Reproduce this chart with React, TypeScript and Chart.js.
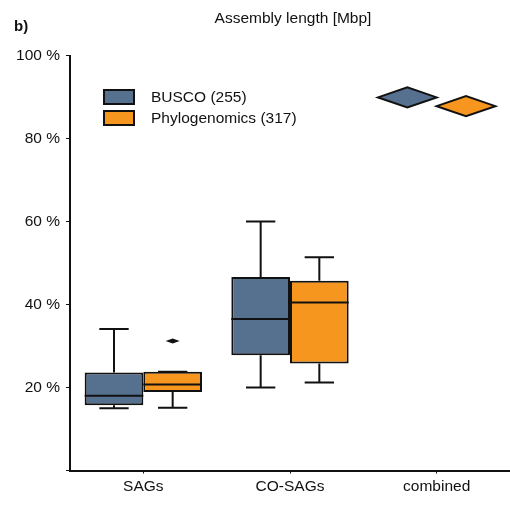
import React, { useEffect, useRef } from "react";
import { Chart, registerables } from "chart.js";

Chart.register(...registerables);

const categories = ["SAGs", "CO-SAGs", "combined"];
const seriesNames = ["BUSCO (255)", "Phylogenomics (317)"];
const seriesColors = ["#56718F", "#F7961F"];

// box statistics per category (null = no box)
const buscoMin = [15.0, 20.0, null];
const buscoQ1 = [15.7, 27.8, null];
const buscoMedian = [18.0, 36.5, null];
const buscoQ3 = [23.6, 46.6, null];
const buscoMax = [34.1, 60.0, null];

const phyloMin = [15.1, 21.2, null];
const phyloQ1 = [18.9, 25.8, null];
const phyloMedian = [20.7, 40.5, null];
const phyloQ3 = [23.8, 45.7, null];
const phyloMax = [23.8, 51.4, null];

const buscoOutliers: (number | null)[] = [null, null, null];
const phyloOutliers: (number | null)[] = [31.2, null, null];

// single values (shown as diamonds)
const buscoSingle = [null, null, 89.9];
const phyloSingle = [null, null, 87.8];

const yTicks = [0, 20, 40, 60, 80, 100];
const titleText = "Assembly length [Mbp]";
const panelLabel = "b)";

const FONT = "'Liberation Sans', Arial, sans-serif";

type Stats = {
  min: (number | null)[];
  q1: (number | null)[];
  med: (number | null)[];
  q3: (number | null)[];
  max: (number | null)[];
  out: (number | null)[];
  single: (number | null)[];
};

const stats: Stats[] = [
  { min: buscoMin, q1: buscoQ1, med: buscoMedian, q3: buscoQ3, max: buscoMax, out: buscoOutliers, single: buscoSingle },
  { min: phyloMin, q1: phyloQ1, med: phyloMedian, q3: phyloQ3, max: phyloMax, out: phyloOutliers, single: phyloSingle },
];

const boxPlugin = {
  id: "boxExtras",
  afterDatasetsDraw(chart: any) {
    const ctx = chart.ctx;
    const xs = chart.scales.x;
    const ys = chart.scales.y;
    const catW = xs.width / categories.length;
    const barW = (catW * 0.8) / 2;
    ctx.save();
    ctx.strokeStyle = "#111";
    ctx.lineWidth = 2;
    stats.forEach((s, d) => {
      categories.forEach((_, i) => {
        const cx = xs.getPixelForValue(i) + (d - 0.5) * barW;
        const left = cx - barW / 2;
        const right = cx + barW / 2;
        const capHalf = barW / 4;
        if (s.q1[i] != null) {
          const yq1 = ys.getPixelForValue(s.q1[i]);
          const yq3 = ys.getPixelForValue(s.q3[i]);
          const ymin = ys.getPixelForValue(s.min[i]);
          const ymax = ys.getPixelForValue(s.max[i]);
          const ymed = ys.getPixelForValue(s.med[i]);
          ctx.beginPath();
          ctx.moveTo(cx, yq3);
          ctx.lineTo(cx, ymax);
          ctx.moveTo(cx - capHalf, ymax);
          ctx.lineTo(cx + capHalf, ymax);
          ctx.moveTo(cx, yq1);
          ctx.lineTo(cx, ymin);
          ctx.moveTo(cx - capHalf, ymin);
          ctx.lineTo(cx + capHalf, ymin);
          ctx.moveTo(left, ymed);
          ctx.lineTo(right, ymed);
          ctx.stroke();
        }
        if (s.out[i] != null) {
          const yo = ys.getPixelForValue(s.out[i]);
          ctx.fillStyle = "#111";
          ctx.beginPath();
          ctx.moveTo(cx - 7, yo);
          ctx.lineTo(cx, yo - 2.5);
          ctx.lineTo(cx + 7, yo);
          ctx.lineTo(cx, yo + 2.5);
          ctx.closePath();
          ctx.fill();
        }
        if (s.single[i] != null) {
          const yv = ys.getPixelForValue(s.single[i]);
          ctx.fillStyle = seriesColors[d];
          ctx.beginPath();
          ctx.moveTo(left, yv);
          ctx.lineTo(cx, yv - 10);
          ctx.lineTo(right, yv);
          ctx.lineTo(cx, yv + 10);
          ctx.closePath();
          ctx.fill();
          ctx.stroke();
        }
      });
    });

    // legend
    const ca = chart.chartArea;
    const lx = ca.left + 34;
    const ly = ca.top + 34.5;
    ctx.font = `15.5px ${FONT}`;
    ctx.textBaseline = "middle";
    ctx.textAlign = "left";
    seriesNames.forEach((name, d) => {
      const y = ly + d * 21;
      ctx.fillStyle = seriesColors[d];
      ctx.fillRect(lx, y, 30, 14);
      ctx.lineWidth = 2;
      ctx.strokeStyle = "#111";
      ctx.strokeRect(lx, y, 30, 14);
      ctx.fillStyle = "#111";
      ctx.fillText(name, lx + 47, y + 7.5);
    });

    // title + panel label
    ctx.textAlign = "center";
    ctx.font = `15.5px ${FONT}`;
    ctx.fillText(titleText, (ca.left + ca.right) / 2 + 3, 19);
    ctx.textAlign = "left";
    ctx.font = `bold 15px ${FONT}`;
    ctx.fillText(panelLabel, 14, 27);
    ctx.restore();
  },
};

export default function App() {
  const ref = useRef<HTMLCanvasElement | null>(null);
  useEffect(() => {
    if (!ref.current) return;
    const chart = new Chart(ref.current, {
      type: "bar",
      data: {
        labels: categories,
        datasets: stats.map((s, d) => ({
          label: seriesNames[d],
          data: categories.map((_, i) =>
            s.q1[i] != null ? [s.q1[i] as number, s.q3[i] as number] : null
          ) as any,
          backgroundColor: seriesColors[d],
          borderColor: "#111",
          borderWidth: 2,
          borderSkipped: false,
          categoryPercentage: 0.8,
          barPercentage: 1,
        })),
      },
      options: {
        animation: false,
        responsive: false,
        maintainAspectRatio: false,
        layout: { padding: { top: 55.5, right: 0, left: 0, bottom: 0 } },
        plugins: {
          legend: { display: false },
          tooltip: { enabled: false },
          title: { display: false },
        },
        scales: {
          x: {
            offset: true,
            grid: {
              offset: false,
              drawOnChartArea: false,
              drawTicks: true,
              tickLength: 3,
              color: "#111",
            },
            border: { display: true, color: "#111", width: 2 },
            ticks: {
              color: "#111",
              font: { family: FONT, size: 15.5 },
              padding: 4,
            },
            afterFit: (scale: any) => {
              scale.height = 35.5;
            },
          },
          y: {
            min: 0,
            max: 100,
            afterBuildTicks: (scale: any) => {
              scale.ticks = yTicks.map((v) => ({ value: v }));
            },
            grid: {
              drawOnChartArea: false,
              drawTicks: true,
              tickLength: 4,
              color: "#111",
            },
            border: { display: true, color: "#111", width: 2 },
            ticks: {
              color: "#111",
              font: { family: FONT, size: 15.5 },
              padding: 6,
              callback: (v: any) => (Number(v) === 0 ? "" : `${v} %`),
            },
            afterFit: (scale: any) => {
              scale.width = 70;
            },
          },
        },
      },
      plugins: [boxPlugin],
    });
    return () => chart.destroy();
  }, []);
  return (
    <div style={{ position: "absolute", left: 0, top: 0, width: 510, height: 506, background: "#fff" }}>
      <canvas ref={ref} width={510} height={506} style={{ display: "block" }} />
    </div>
  );
}
